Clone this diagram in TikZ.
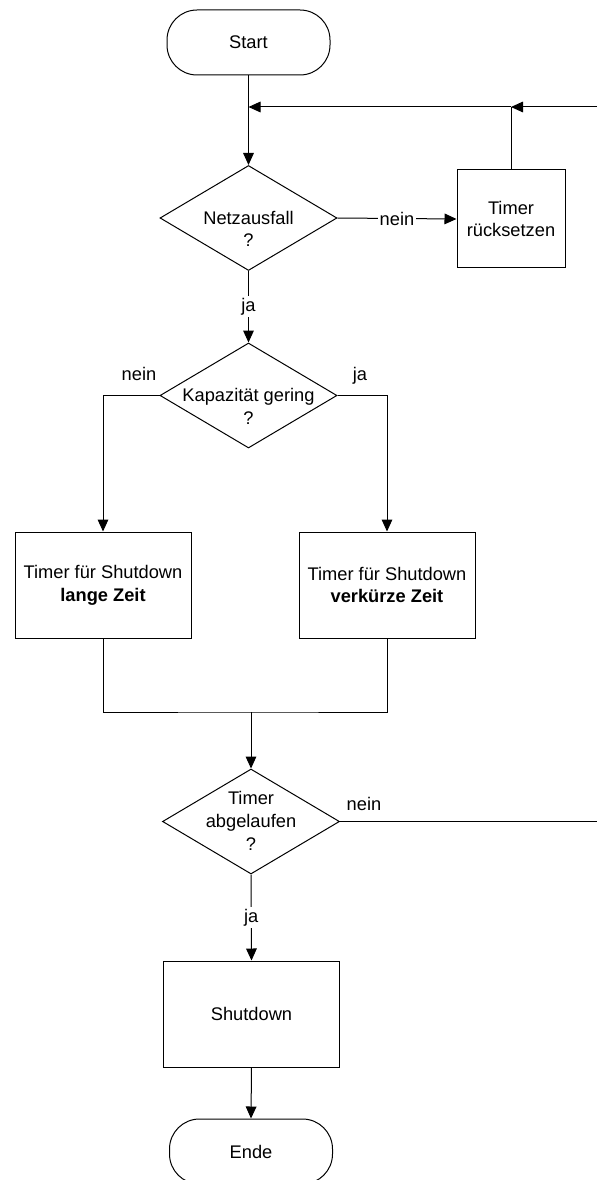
\documentclass[tikz,border=0pt]{standalone}
\usepackage{fontspec}
\setmainfont{Liberation Sans}
\usetikzlibrary{shapes.geometric,arrows.meta}

\tikzset{every picture/.style={line width=0.75pt}}
\tikzset{
  txt/.style={inner sep=0.75pt, align=center, font=\fontsize{13.7}{17}\selectfont},
  terminal/.style={draw, rectangle, rounded corners=22.5pt, minimum width=122.25pt, minimum height=48.75pt, inner sep=0pt, txt},
  decision/.style={draw, diamond, aspect=1, minimum width=132.75pt, minimum height=78.75pt, inner sep=0pt},
  process/.style={draw, rectangle, minimum width=132pt, minimum height=79.5pt, inner sep=0pt, txt},
  lbl/.style={txt, fill=white, inner sep=1.5pt},
  flow/.style={-{Triangle[length=9pt,width=8pt]}}
}

\begin{document}
\begin{tikzpicture}[x=0.75pt,y=0.75pt,yscale=-1,xscale=1]
\useasboundingbox (0,0) rectangle (597,1180);

%Flowchart: Terminator
\node [terminal] (start) at (248.5,42.5) {Start};
%Flowchart: Decision
\node [decision] (netz) at (248.5,218) {};
\node [txt] (netztxt) at (248.5,229) {Netzausfall\\?};
%Flowchart: Process
\node [process, minimum width=81pt, minimum height=73.5pt] (reset) at (511,219) {Timer\\rücksetzen};
%Flowchart: Decision
\node [decision] (kap) at (248.5,395.5) {};
\node [txt] (kaptxt) at (248.5,406.5) {Kapazität gering\\?};
%Flowchart: Process
\node [process] (lang) at (103,585) {Timer für Shutdown\\\textbf{lange Zeit}};
\node [process] (kurz) at (387,585) {Timer für Shutdown\\\textbf{verkürze Zeit}};
%Flowchart: Decision
\node [decision] (timer) at (251,821.5) {};
\node [txt] (timertxt) at (251,821) {Timer\\abgelaufen\\?};
%Flowchart: Process
\node [process] (shut) at (251.5,1014) {Shutdown};
%Flowchart: Terminator
\node [terminal] (ende) at (251,1151.5) {Ende};

% Junctions
\coordinate (loopA) at (248.5,107);
\coordinate (loopB) at (511,107);
\coordinate (loopR) at (597,107);
\coordinate (merge) at (251,712);
\coordinate (backR) at (597,821.5);

%Straight Lines
\draw [flow] (start.south) -- (netz.north);
\draw [flow] (loopR) -- (loopB);
\draw [flow] (loopB) -- (loopA);
\draw (reset.north) -- (loopB);
\draw [flow] (netz.east) -- node [lbl] (nein1) {nein} (reset.west);
\draw [flow] (netz.south) -- node [lbl] (ja1) {ja} (kap.north);
\draw [flow] (kap.west) -| (lang.north);
\draw [flow] (kap.east) -| (kurz.north);
\draw (lang.south) |- (merge) -| (kurz.south);
\draw [flow] (merge) -- (timer.north);
\draw (timer.east) -- (backR);
\draw [flow] (timer.south) -- node [lbl] (ja3) {ja} (shut.north);
\draw [flow] (shut.south) -- (ende.north);

% Text Node
\node [txt] (nein2) at (139,374) {nein};
% Text Node
\node [txt] (ja2) at (360,376) {ja};
% Text Node
\node [txt] (nein3) at (364,804) {nein};

\end{tikzpicture}
\end{document}
